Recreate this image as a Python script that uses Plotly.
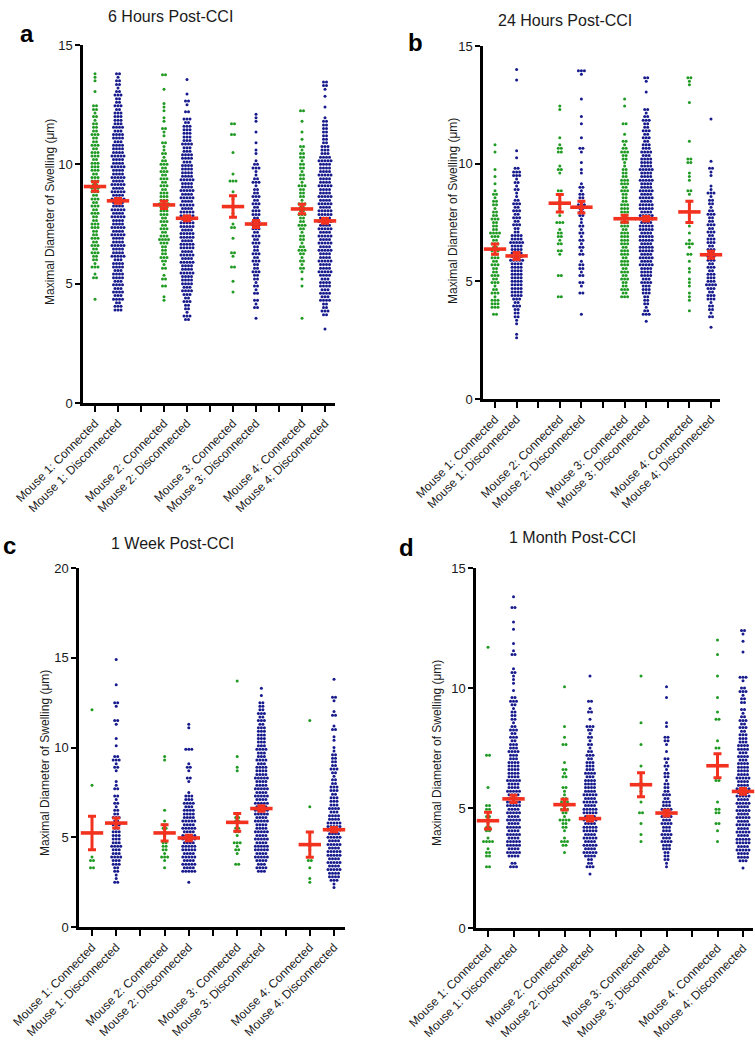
import plotly.graph_objects as go

# ---------------- data ----------------
GROUP_LABELS = ["Mouse 1: Connected", "Mouse 1: Disconnected",
                "Mouse 2: Connected", "Mouse 2: Disconnected",
                "Mouse 3: Connected", "Mouse 3: Disconnected",
                "Mouse 4: Connected", "Mouse 4: Disconnected"]
GROUP_POS = [0, 1, 3, 4, 6, 7, 9, 10]
GROUP_IS_CONNECTED = [True, False, True, False, True, False, True, False]
PANEL_TITLES = ["6 Hours Post-CCI", "24 Hours Post-CCI", "1 Week Post-CCI", "1 Month Post-CCI"]
PANEL_LETTERS = ["a", "b", "c", "d"]

# Each group: lowest value, then number of points found in each successive row
# (row spacing = STEP, in µm), reading the swarm from the bottom upward.
H6_STEP = 0.15
H6_LO = [4.35, 3.9, 4.3, 3.5, 4.65, 3.55, 3.55, 3.1]
H6_ROWS = [
    "100000 2103122323 2322332232 3232332332 3332332322 3222121220 00100111",
    "3324343434 4344354454 4545445454 4545454544 5445444344 3433332322 3212212",
    "1100202102 1232223432 3232333433 3232323232 1211201120 1101110001 0002",
    "2312232343 4445445454 5545545545 5454545445 4444344334 3333323020 12010001",
    "1001000200 1200010021 0110101010 0301000001 00002002",
    "1002120212 1223223232 2323233323 3232322132 1132101101 00100111",
    "1000000001 0101212123 2122123223 2231222312 2122122120 101001002",
    "1000232243 4344345445 4454545454 5455454544 5445444543 3322222221 0010010122",
]
H6_MEAN = [9.07, 8.47, 8.30, 7.74, 8.23, 7.50, 8.13, 7.63]
H6_SEM = [0.20, 0.10, 0.15, 0.10, 0.45, 0.15, 0.20, 0.10]

H24_STEP = 0.15
H24_LO = [3.6, 2.6, 4.35, 3.6, 4.35, 3.3, 3.75, 3.05]
H24_ROWS = [
    "2033313213 2322323232 3234222322 1221210101 010000101",
    "1100112223 2344444444 4454444544 2232323232 1121213320 0101000000 0000000000 0001001",
    "2000002000 0012021221 0301111101 2000012100 0221010000 00011",
    "1000002012 0212210212 1212121122 2322212100 1101001200 1000101000 0100000013",
    "3232232323 3233233332 3332333222 3233222112 2321201002 0000101",
    "1032122233 3434445454 5545545545 5455454544 5445444343 3232322321 2000010012",
    "1001110111 0110102013 1010100100 1101200111 0022000010 0000000001 0000112",
    "1002122133 2343332323 3232332323 2232122131 1001120100 0000000001",
]
H24_MEAN = [6.37, 6.08, 8.32, 8.15, 7.66, 7.66, 7.95, 6.13]
H24_SEM = [0.22, 0.15, 0.37, 0.25, 0.15, 0.10, 0.45, 0.15]

W1_STEP = 0.2
W1_LO = [3.3, 2.5, 3.3, 2.5, 3.5, 3.1, 2.5, 2.2]
W1_ROWS = [
    "2021000000 0000000000 0001000000 0000000000 00001",
    "2112233433 4333323232 2121202110 0121320010 1000120001 2000010000 001",
    "1013122211 1221001000 0000000000 11",
    "1005454545 5455454544 4343310012 0121000300 00011",
    "2001213012 2022100000 0000001100 1000000000 0000000000 01",
    "3434545545 4544545545 4545445444 3433433333 3232322201 01",
    "1100102001 1000000000 0100000000 0000000000 000001",
    "1134454545 5454545554 4343332332 2123222211 0110210021 001200001",
]
W1_MEAN = [5.24, 5.79, 5.24, 4.96, 5.83, 6.60, 4.59, 5.42]
W1_SEM = [0.93, 0.28, 0.45, 0.15, 0.50, 0.15, 0.70, 0.12]

M1_STEP = 0.15
M1_LO = [2.55, 2.55, 3.15, 2.25, 3.6, 2.55, 3.6, 2.5]
M1_ROWS = [
    "2002210410 2212212200 0010000000 0200000000 0000000000 0000000000 01",
    "3204545545 4545454555 4544544444 3343323232 1222123201 0111210002 1010001010 002001",
    "1023101224 1232321120 0212010000 2010010000 0000001",
    "1032245454 5455454554 5454444343 3323212121 2301021020 000001",
    "1010010020 0100112000 0100000100 0001000000 0000001",
    "1122233434 3343434332 3222122121 2010122001 1000000100 1",
    "1001020022 0100000210 0000102010 0000201000 1000001000 0010001",
    "1034454554 5454545454 5454454444 3434433323 2321202213 2013000000 1001012",
]
M1_MEAN = [4.47, 5.38, 5.14, 4.56, 5.97, 4.79, 6.76, 5.69]
M1_SEM = [0.35, 0.15, 0.22, 0.10, 0.50, 0.12, 0.50, 0.12]

Y_MAX = [15, 15, 20, 15]
Y_TICKS = [[0, 5, 10, 15], [0, 5, 10, 15], [0, 5, 10, 15, 20], [0, 5, 10, 15]]
Y_TITLE = "Maximal Diameter of Swelling (\u03bcm)"

# ---------------- layout geometry (pixels on the 755x1050 page) ----------------
W, H = 755, 1050
FONT = "Liberation Sans, Arial, Helvetica, sans-serif"
GREEN = "#1f9a22"
BLUE = "#171a8c"
RED = "#f2311f"
DOT_SPACING_PX = 3.0
DOT_SIZE = 3.0

GEOM = [
    # axis-left, first category, last category, axis-right, y top, y zero
    dict(px=(83, 95, 325, 335), py=(45, 403), title=(170, 16), letter=(27, 33), ytitle=(50, 212)),
    dict(px=(483, 495, 711, 720), py=(46, 399), title=(565, 20), letter=(415, 42), ytitle=(453, 211)),
    dict(px=(79, 92, 334, 345), py=(568, 927), title=(172, 543), letter=(9, 545), ytitle=(45, 763)),
    dict(px=(476, 488, 743, 753), py=(568, 928), title=(572, 537), letter=(407, 547), ytitle=(437, 753)),
]

PANEL_DATA = [
    (H6_STEP, H6_LO, H6_ROWS, H6_MEAN, H6_SEM),
    (H24_STEP, H24_LO, H24_ROWS, H24_MEAN, H24_SEM),
    (W1_STEP, W1_LO, W1_ROWS, W1_MEAN, W1_SEM),
    (M1_STEP, M1_LO, M1_ROWS, M1_MEAN, M1_SEM),
]


def expand(lo, step, rows):
    rows = rows.replace(" ", "")
    out = []
    for i, ch in enumerate(rows):
        n = int(ch)
        if n:
            out.append((round(lo + i * step, 3), n))
    return out


def px_x(p):
    return p / W


def px_y(p):
    return 1 - p / H


fig = go.Figure()
annotations = []
tick_text = []
label_iter = iter(GROUP_LABELS)
for k in range(11):
    tick_text.append(next(label_iter) if k in GROUP_POS else "")

for pi in range(4):
    step, los, rows, means, sems = PANEL_DATA[pi]
    g = GEOM[pi]
    x0, c0, c10, x1 = g["px"]
    ytop, ybot = g["py"]
    pxu = (c10 - c0) / 10.0
    xmin = -(c0 - x0) / pxu
    xmax = 10 + (x1 - c10) / pxu
    dx = DOT_SPACING_PX / pxu
    sfx = "" if pi == 0 else str(pi + 1)

    gx, gy, bx, by = [], [], [], []
    for gi in range(8):
        pos = GROUP_POS[gi]
        for val, n in expand(los[gi], step, rows[gi]):
            for j in range(n):
                xv = pos + (j - (n - 1) / 2.0) * dx
                if GROUP_IS_CONNECTED[gi]:
                    gx.append(xv); gy.append(val)
                else:
                    bx.append(xv); by.append(val)

    common = dict(xaxis="x" + sfx, yaxis="y" + sfx, mode="markers", showlegend=False,
                  hoverinfo="skip", cliponaxis=False)
    fig.add_trace(go.Scatter(x=gx, y=gy, marker=dict(color=GREEN, size=DOT_SIZE, line=dict(width=0)), **common))
    fig.add_trace(go.Scatter(x=bx, y=by, marker=dict(color=BLUE, size=DOT_SIZE, line=dict(width=0)), **common))
    fig.add_trace(go.Scatter(
        x=GROUP_POS, y=means,
        marker=dict(symbol="line-ew", size=16, color=RED, line=dict(color=RED, width=3.6)),
        error_y=dict(type="data", array=sems, visible=True, color=RED, thickness=3, width=4),
        **common))

    fig.layout["xaxis" + sfx] = dict(
        domain=[px_x(x0), px_x(x1)], range=[xmin, xmax], anchor="y" + sfx, automargin=False,
        tickmode="array", tickvals=list(range(11)), ticktext=tick_text, tickangle=-45,
        ticks="outside", ticklen=6, tickwidth=2, tickcolor="black",
        showline=True, linewidth=2.5, linecolor="black",
        showgrid=False, zeroline=False, fixedrange=True,
        tickfont=dict(family=FONT, size=12, color="#1a1a1a"))
    fig.layout["yaxis" + sfx] = dict(
        domain=[px_y(ybot), px_y(ytop)], range=[0, Y_MAX[pi]], anchor="x" + sfx, automargin=False,
        tickmode="array", tickvals=Y_TICKS[pi], ticks="outside", ticklen=5, tickwidth=2,
        tickcolor="black", showline=True, linewidth=2.5, linecolor="black",
        showgrid=False, zeroline=False, fixedrange=True,
        tickfont=dict(family=FONT, size=13, color="#1a1a1a"))

    tx, ty = g["title"]
    annotations.append(dict(text=PANEL_TITLES[pi], x=px_x(tx), y=px_y(ty), xref="paper", yref="paper",
                            showarrow=False, xanchor="center", yanchor="middle",
                            font=dict(family=FONT, size=16, color="#1a1a1a")))
    lx, ly = g["letter"]
    annotations.append(dict(text="<b>%s</b>" % PANEL_LETTERS[pi], x=px_x(lx), y=px_y(ly), xref="paper", yref="paper",
                            showarrow=False, xanchor="center", yanchor="middle",
                            font=dict(family=FONT, size=24, color="black")))
    yx, yy = g["ytitle"]
    annotations.append(dict(text=Y_TITLE, x=px_x(yx), y=px_y(yy), xref="paper", yref="paper",
                            showarrow=False, xanchor="center", yanchor="middle", textangle=-90,
                            font=dict(family=FONT, size=12, color="#1a1a1a")))

fig.update_layout(template="none", width=W, height=H, autosize=False,
                  margin=dict(l=0, r=0, t=0, b=0, pad=0),
                  paper_bgcolor="white", plot_bgcolor="white",
                  annotations=annotations, font=dict(family=FONT))

fig.write_html("out.html", config={"displayModeBar": False},
               post_script="document.body.style.margin='0';document.body.style.overflow='hidden';")
